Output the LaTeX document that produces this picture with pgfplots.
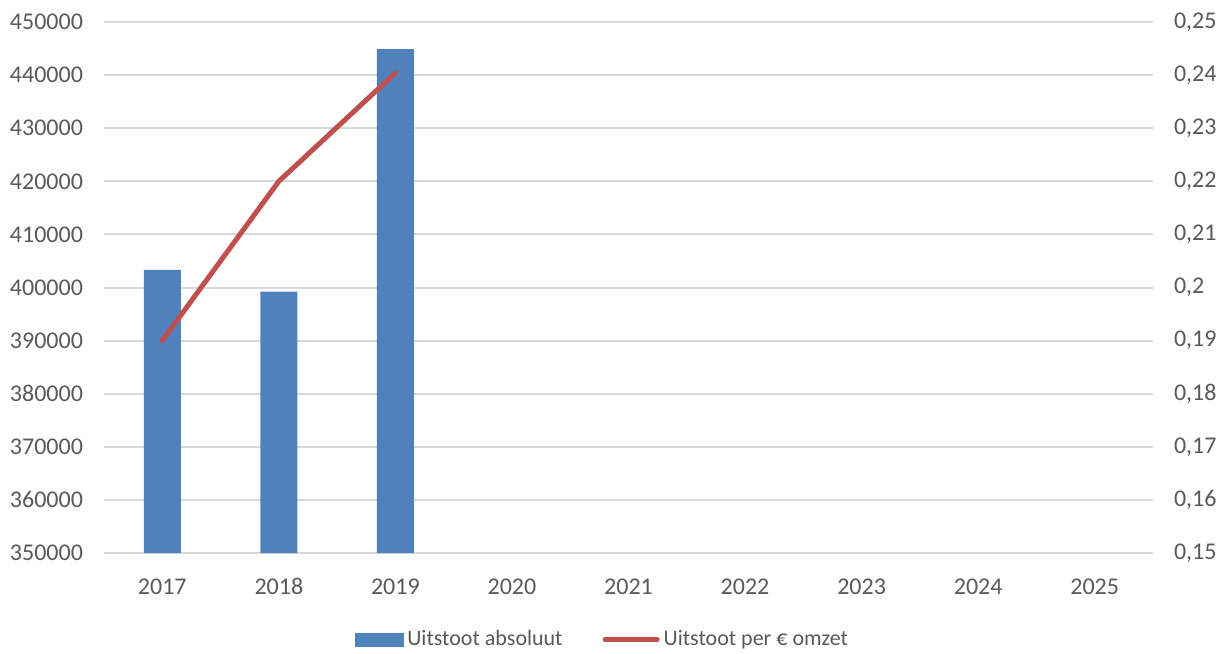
\documentclass[border=0pt]{standalone}
\usepackage{fontspec}
\setmainfont{Carlito}
\usepackage{pgfplots}
\pgfplotsset{compat=1.18}
\usetikzlibrary{calc}
\definecolor{barblue}{HTML}{4F81BD}
\definecolor{linered}{HTML}{C0504D}
\definecolor{gridgrey}{HTML}{D9D9D9}
\definecolor{textgrey}{HTML}{595959}

\begin{document}
\begin{tikzpicture}
\pgfplotsset{
  common/.style={
    width=524.5pt, height=265.5pt, scale only axis,
    xmin=-0.5, xmax=8.5,
    axis line style={draw=none},
    tick style={draw=none},
    scaled y ticks=false,
    ticklabel style={font=\fontsize{12}{14}\selectfont, text=textgrey},
  }
}
% left axis: absolute emission (bars)
\begin{axis}[common, name=ax,
  ymin=350000, ymax=450000,
  ytick={350000,360000,370000,380000,390000,400000,410000,420000,430000,440000,450000},
  yticklabels={350000,360000,370000,380000,390000,400000,410000,420000,430000,440000,450000},
  ymajorgrids, grid style={gridgrey, line width=1pt},
  xtick={0,...,8},
  xticklabels={2017,2018,2019,2020,2021,2022,2023,2024,2025},
  xticklabel style={text height=8.5pt, text depth=0pt, yshift=-8.5pt},
  yticklabel style={xshift=-7pt},
  ]
\addplot[ybar, bar width=18.5pt, fill=barblue, draw=none]
  coordinates {(0,403300) (1,399200) (2,444900)};
\end{axis}
% right axis: emission per euro turnover (line)
\begin{axis}[common,
  ymin=0.15, ymax=0.25,
  yticklabel pos=right,
  ytick={0.15,0.16,0.17,0.18,0.19,0.2,0.21,0.22,0.23,0.24,0.25},
  yticklabels={{0,15},{0,16},{0,17},{0,18},{0,19},{0,2},{0,21},{0,22},{0,23},{0,24},{0,25}},
  yticklabel style={xshift=7pt},
  xtick=\empty,
  legend columns=2,
  legend style={draw=none, at={(0.476,-0.163)}, anchor=center,
    font=\fontsize{11}{13}\selectfont, text=textgrey,
    /tikz/every even column/.append style={column sep=18pt}},
  ]
\addlegendimage{legend image code/.code={\fill[barblue] (0pt,-3.25pt) rectangle (24pt,3.25pt);}}
\addlegendentry{Uitstoot absoluut}
\addplot[linered, line width=2.5pt, line cap=round, line join=round,
  legend image code/.code={\draw[linered, line width=2.5pt, line cap=round] (0pt,0pt) -- (26pt,0pt);}]
  coordinates {(0,0.19) (1,0.22) (2,0.2404)};
\addlegendentry{Uitstoot per € omzet}
\end{axis}
\pgfresetboundingbox
\path[use as bounding box] ($(ax.south west)+(-52pt,-50pt)$) rectangle ($(ax.north east)+(37pt,11pt)$);
\end{tikzpicture}
\end{document}
